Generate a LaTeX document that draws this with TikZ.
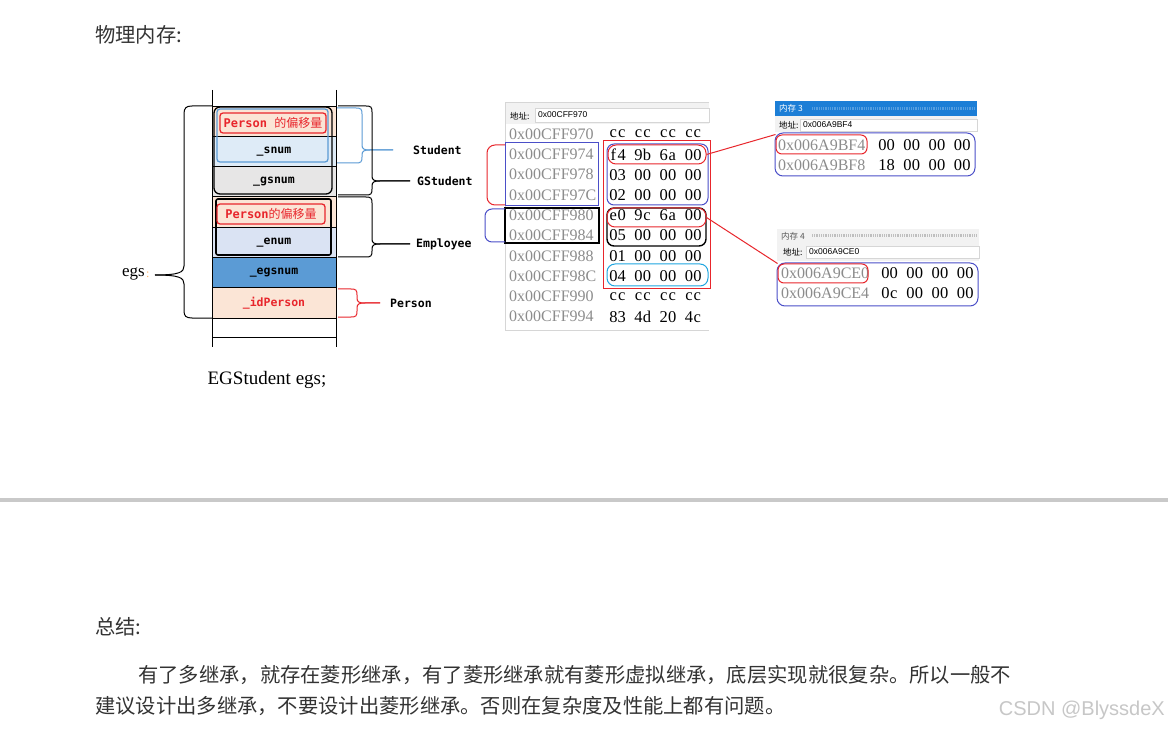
\documentclass[tikz,border=0pt]{standalone}
\usepackage{fontspec}
\newfontfamily\cjk{Noto Sans CJK SC}
\newfontfamily\lblmono{DejaVu Sans Mono}
\newfontfamily\memserif{Liberation Serif}
\newfontfamily\uisans{Liberation Sans}
\definecolor{peach}{HTML}{FBE5D6}
\definecolor{ltblue}{HTML}{DEEBF7}
\definecolor{ltgrey}{HTML}{E7E6E6}
\definecolor{lav}{HTML}{DAE3F3}
\definecolor{midblue}{HTML}{5B9BD5}
\definecolor{annred}{HTML}{E8262C}
\definecolor{annblue}{HTML}{4B4FC8}
\definecolor{anncyan}{HTML}{1EA5E0}
\definecolor{addrgray}{HTML}{8C8C8C}
\definecolor{titleblue}{HTML}{1C7ED6}
\definecolor{txt}{HTML}{333333}
\definecolor{uiborder}{HTML}{D6D6D6}
\definecolor{uihead}{HTML}{F2F2F2}
\newcommand\hbb{}
\def\hbb#1#2\relax{\makebox[8.4pt]{#1}\makebox[8.4pt]{#2}}
\newcommand\hb[1]{\expandafter\hbb#1\relax}
\newcommand\bytes[4]{\hb{#1}\hspace{8.4pt}\hb{#2}\hspace{8.4pt}\hb{#3}\hspace{8.4pt}\hb{#4}}
% right brace: style, x0, xv, ytop, ytip, ybot, xtip
\newcommand\rbrc[7]{%
\draw[#1] (#2,#4) -- ({#3-6},#4) .. controls ({#3-1},#4) and (#3,{#4+1}) .. (#3,{#4+6})
 -- (#3,{#5-5}) .. controls (#3,{#5-1}) and ({#3+2},#5) .. ({#3+8},#5) -- (#7,#5);
\draw[#1] (#7,#5) -- ({#3+8},#5) .. controls ({#3+2},#5) and (#3,{#5+1}) .. (#3,{#5+5})
 -- (#3,{#6-6}) .. controls (#3,{#6-1}) and ({#3-1},#6) .. ({#3-6},#6) -- (#2,#6);}
\tikzset{
 cell/.style={draw=black, line width=0.8pt, minimum width=124pt, inner sep=0pt,
   font=\lblmono\bfseries\fontsize{11.5}{12}\selectfont},
 redlbl/.style={draw=annred, line width=1.3pt, rounded corners=3pt, inner sep=0pt,
   minimum width=106pt, minimum height=20pt, text=annred, font=\fontsize{12}{13}\selectfont},
 sidelbl/.style={anchor=west, inner sep=0pt, font=\lblmono\bfseries\fontsize{11.5}{12}\selectfont},
 memaddr/.style={anchor=west, inner sep=0pt, text=addrgray, font=\memserif\fontsize{16}{18}\selectfont},
 membyte/.style={anchor=west, inner sep=0pt, text=black, font=\memserif\fontsize{16.5}{18}\selectfont},
 uitext/.style={anchor=west, inner sep=0pt, font=\uisans\fontsize{8.5}{9}\selectfont},
 uicjk/.style={anchor=west, inner sep=0pt, font=\cjk\fontsize{8.5}{9}\selectfont},
 ring/.style={draw=annred, line width=1pt, rounded corners=8pt, inner sep=0pt},
 annot/.style={line width=1pt},
 bodytext/.style={anchor=west, inner sep=0pt, text=txt, font=\cjk\fontsize{20.3}{24}\selectfont},
 brc/.style={line width=1pt}
}
\begin{document}
\begin{tikzpicture}[x=1pt,y=-1pt]
\fill[white] (0,0) rectangle (1168,730);
\useasboundingbox (0,0) rectangle (1168,730);

% headings and body text
\node[bodytext] (title) at (95,35) {物理内存:};
\node[bodytext] (summary) at (95,627) {总结:};
\node[bodytext] (line1) at (138,675) {有了多继承，就存在菱形继承，有了菱形继承就有菱形虚拟继承，底层实现就很复杂。所以一般不};
\node[bodytext] (line2) at (95,706) {建议设计出多继承，不要设计出菱形继承。否则在复杂度及性能上都有问题。};
\node[anchor=east, inner sep=0pt, text=black!22, font=\uisans\fontsize{20}{22}\selectfont] (wm) at (1165,710) {CSDN @BlyssdeX};
\fill[black!21] (0,498) rectangle (1168,502);

% ===== left object layout =====
\node[cell, fill=peach, minimum height=30.3pt] (c1) at (274,121.15) {};
\node[cell, fill=ltblue, minimum height=30.3pt] (c2) at (274,151.45) {\_snum};
\node[cell, fill=ltgrey, minimum height=30.3pt] (c3) at (274,181.75) {\_gsnum};
\node[cell, fill=peach, minimum height=30.3pt] (c4) at (274,212.05) {};
\node[cell, fill=lav, minimum height=30.3pt] (c5) at (274,242.35) {\_enum};
\node[cell, fill=midblue, minimum height=30.3pt] (c6) at (274,272.65) {\_egsnum};
\node[cell, fill=peach, minimum height=30.3pt, text=annred] (c7) at (274,302.95) {\_idPerson};
\node[cell, fill=white, minimum height=19pt] (c8) at (274,327.6) {};
\draw[line width=0.8pt] (212,90) -- (212,347);
\draw[line width=0.8pt] (336,90) -- (336,347);

\draw[line width=1.3pt, rounded corners=6pt] (214,107) rectangle (332,194);
\draw[midblue, line width=1.3pt, rounded corners=3pt] (217,109) rectangle (328,162);
\draw[line width=1.6pt, rounded corners=2pt] (216,199) rectangle (331,255);

\node[redlbl] (po1) at (273,123) {{\lblmono\bfseries Person }{\cjk 的偏移量}};
\node[redlbl, minimum width=108pt] (po2) at (271,214) {{\lblmono\bfseries Person}{\cjk 的偏移量}};

% left brace for egs
\draw[brc] (212,106) -- (192,106) .. controls (186,106) and (184,108) .. (184,114)
  -- (184,266) .. controls (184,272) and (180,275) .. (155,275);
\draw[brc] (155,275) .. controls (180,275) and (184,278) .. (184,284)
  -- (184,311) .. controls (184,316) and (186,318) .. (192,318) -- (212,318);
\node[anchor=east, inner sep=0pt, font=\memserif\fontsize{17}{18}\selectfont] (egs) at (145,274) {egs};
\node[anchor=west, inner sep=0pt, text=orange!60, font=\memserif\fontsize{12}{13}\selectfont] (egscolon) at (146,275) {:};

% right braces
\rbrc{brc, midblue}{337}{362}{108}{150}{163}{393}
\rbrc{brc}{338}{372}{106}{181}{195}{410}
\rbrc{brc}{338}{372}{197}{244}{257}{410}
\rbrc{brc, annred}{338}{357}{289}{303}{317}{380}
\node[sidelbl] (lstu) at (413,150) {Student};
\node[sidelbl] (lgstu) at (417,181) {GStudent};
\node[sidelbl] (lemp) at (416,244) {Employee};
\node[sidelbl] (lper) at (390,303) {Person};

\node[inner sep=0pt, font=\memserif\fontsize{19}{20}\selectfont] (decl) at (267,380) {EGStudent egs;};

% ===== memory window 1 =====
\fill[uihead] (505,102) rectangle (709,124);
\draw[uiborder, line width=0.8pt] (709,102) -- (505,102) -- (505,330) -- (709,330);
\draw[uiborder, fill=white, line width=0.6pt] (535,108) rectangle (709,122);
\node[uicjk] (w1lab) at (510,116) {地址:};
\node[uitext] (w1addr) at (538,115) {0x00CFF970};

\node[memaddr] (a1) at (509,134) {0x00CFF970};   \node[membyte] (b1) at (609,134) {\bytes{cc}{cc}{cc}{cc}};
\node[memaddr] (a2) at (509,154.3) {0x00CFF974}; \node[membyte] (b2) at (609,154.3) {\bytes{f4}{9b}{6a}{00}};
\node[memaddr] (a3) at (509,174.6) {0x00CFF978}; \node[membyte] (b3) at (609,174.6) {\bytes{03}{00}{00}{00}};
\node[memaddr] (a4) at (509,194.9) {0x00CFF97C}; \node[membyte] (b4) at (609,194.9) {\bytes{02}{00}{00}{00}};
\node[memaddr] (a5) at (509,215.2) {0x00CFF980}; \node[membyte] (b5) at (609,215.2) {\bytes{e0}{9c}{6a}{00}};
\node[memaddr] (a6) at (509,235.5) {0x00CFF984}; \node[membyte] (b6) at (609,235.5) {\bytes{05}{00}{00}{00}};
\node[memaddr] (a7) at (509,255.8) {0x00CFF988}; \node[membyte] (b7) at (609,255.8) {\bytes{01}{00}{00}{00}};
\node[memaddr] (a8) at (509,276.1) {0x00CFF98C}; \node[membyte] (b8) at (609,276.1) {\bytes{04}{00}{00}{00}};
\node[memaddr] (a9) at (509,296.4) {0x00CFF990}; \node[membyte] (b9) at (609,296.4) {\bytes{cc}{cc}{cc}{cc}};
\node[memaddr] (a10) at (509,316.7) {0x00CFF994}; \node[membyte] (b10) at (609,316.7) {\bytes{83}{4d}{20}{4c}};

% annotations on window 1
\draw[annot, annred] (603,141) rectangle (710,289);
\draw[annot, annblue, rounded corners=7pt] (607,144) rectangle (708,205);
\draw[annot, annblue] (505,143) rectangle (598,206);
\draw[annot, annred, rounded corners=8pt] (505,145) -- (487,145) -- (487,205) -- (505,205);
\draw[line width=1.5pt] (505,208) rectangle (599,243);
\draw[annot, annblue, rounded corners=7pt] (505,209) -- (485,209) -- (485,242) -- (505,242);
\draw[line width=1.4pt, rounded corners=7pt] (607,208) rectangle (706,246);
\draw[annot, anncyan, rounded corners=8pt] (607,264) rectangle (708,286);
\node[ring, minimum width=98pt, minimum height=19pt] (f4ring) at (657,154.5) {};
\node[ring, minimum width=99pt, minimum height=19pt] (e0ring) at (656.5,217.5) {};

% ===== memory window 3 =====
\fill[titleblue] (775,101) rectangle (977,116);
\draw[titleblue!75!white, line width=3pt, dash pattern=on 0.6pt off 1.2pt] (812,108.5) -- (975,108.5);
\node[uicjk, text=white] (w3title) at (779,108.5) {内存 3};
\fill[uihead] (775,116) rectangle (977,132);
\draw[uiborder, fill=white, line width=0.6pt] (800,119) rectangle (977,131);
\node[uicjk] (w3lab) at (779,125) {地址:};
\node[uitext] (w3addr) at (803,125) {0x006A9BF4};
\node[memaddr] (m3a1) at (778,145) {0x006A9BF4}; \node[membyte] (m3b1) at (878,145) {\bytes{00}{00}{00}{00}};
\node[memaddr] (m3a2) at (778,165) {0x006A9BF8}; \node[membyte] (m3b2) at (878,165) {\bytes{18}{00}{00}{00}};
\draw[annot, annblue, rounded corners=8pt] (775,133) rectangle (975,176);
\node[ring, rounded corners=6pt, minimum width=91pt, minimum height=19pt] (bf4ring) at (821.5,144.5) {};

% ===== memory window 4 =====
\fill[uihead] (777,229) rectangle (979,243);
\draw[black!25, line width=3pt, dash pattern=on 0.6pt off 1.2pt] (812,236) -- (977,236);
\node[uicjk, text=black!65] (w4title) at (781,236) {内存 4};
\fill[uihead] (777,243) rectangle (979,261);
\draw[uiborder, fill=white, line width=0.6pt] (806,246) rectangle (979,258);
\node[uicjk] (w4lab) at (783,252) {地址:};
\node[uitext] (w4addr) at (809,252) {0x006A9CE0};
\node[memaddr] (m4a1) at (781,273) {0x006A9CE0}; \node[membyte] (m4b1) at (881,273) {\bytes{00}{00}{00}{00}};
\node[memaddr] (m4a2) at (781,293) {0x006A9CE4}; \node[membyte] (m4b2) at (881,293) {\bytes{0c}{00}{00}{00}};
\draw[annot, annblue, rounded corners=8pt] (777,263) rectangle (978,306);
\node[ring, rounded corners=6pt, minimum width=90pt, minimum height=19pt] (ce0ring) at (823,273.5) {};

% connectors
\draw[annot, annred] (f4ring.east) -- (bf4ring.north west);
\draw[annot, annred] (e0ring.east) -- (ce0ring.north west);
\end{tikzpicture}
\end{document}
